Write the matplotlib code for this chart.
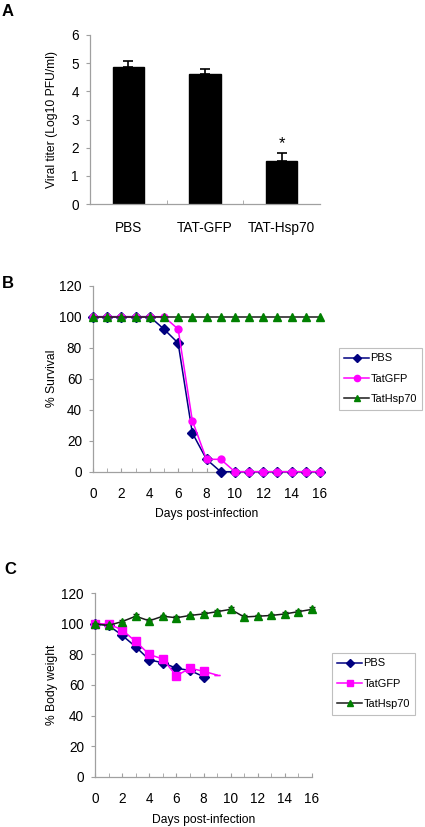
import matplotlib
matplotlib.use("Agg")
import matplotlib.pyplot as plt
from matplotlib.lines import Line2D
import numpy as np

plt.rcParams['font.family'] = ['Liberation Sans', 'DejaVu Sans']

# ---------------- Data ----------------
groups_a = ["PBS", "TAT-GFP", "TAT-Hsp70"]
titer = [4.86, 4.63, 1.52]
titer_err = [0.22, 0.17, 0.29]

days = list(range(0, 17))
surv_pbs = [100, 100, 100, 100, 100, 92, 83, 25, 8, 0, 0, 0, 0, 0, 0, 0, 0]
surv_gfp = [100, 100, 100, 100, 100, 100, 92, 33, 8, 8, 0, 0, 0, 0, 0, 0, 0]
surv_hsp = [100] * 17

days_pbs_w = [0, 1, 2, 3, 4, 5, 6, 7, 8]
bw_pbs = [100, 99, 92.5, 85, 76.5, 74.5, 71, 69.5, 65.5]
bw_pbs_err = [0.8, 0.8, 1.2, 1.2, 1.2, 1.2, 1.0, 1.0, 1.0]
days_gfp_w = [0, 1, 2, 3, 4, 5, 6, 7, 8, 9]
bw_gfp = [100, 100, 96, 88.5, 80, 77, 66, 71, 69, 66.5]
bw_gfp_err = [0.8, 0.8, 1.0, 1.0, 1.0, 1.0, 1.0, 1.0, 1.0, 0]
bw_hsp = [100, 99, 101.5, 105, 102, 105, 104, 105.5, 106.5, 108, 109.5,
          104.5, 105, 105.5, 106.5, 108, 109.5]
bw_hsp_err = [0.8, 0.8, 1.0, 1.2, 1.0, 1.0, 1.0, 1.0, 1.0, 1.2, 1.5,
              1.0, 1.0, 1.0, 1.0, 1.0, 1.5]

legend_labels = ["PBS", "TatGFP", "TatHsp70"]

W, H = 425, 827
fig = plt.figure(figsize=(W / 100, H / 100), dpi=100)

AX_GRAY = "#a0a0a0"
FS = 8.7
TFS = 9.8
NAVY = "#000080"
MAG = "#ff00ff"
GREEN = "#008000"
DARK = "#1a1a1a"


def frac(left, top, right, bottom):
    return [left / W, 1 - bottom / H, (right - left) / W, (bottom - top) / H]


def style_axes(ax):
    for s in ("top", "right"):
        ax.spines[s].set_visible(False)
    for s in ("left", "bottom"):
        ax.spines[s].set_color(AX_GRAY)
        ax.spines[s].set_linewidth(0.9)
    ax.tick_params(axis="both", colors=AX_GRAY, labelcolor="black",
                   labelsize=TFS, width=0.8, length=3)


def add_legend(handles, x, y):
    leg = fig.legend(handles=handles, labels=legend_labels, loc="upper left",
                     bbox_to_anchor=(x / W, 1 - y / H), fontsize=7.9,
                     frameon=True, fancybox=False, edgecolor="#b0b0b0",
                     handlelength=2.2, handletextpad=0.15, borderpad=0.5,
                     labelspacing=0.95, borderaxespad=0)
    leg.get_frame().set_linewidth(0.8)
    return leg


# ---------------- Panel A ----------------
axA = fig.add_axes(frac(90, 35, 320, 204))
xa = np.arange(len(groups_a))
axA.bar(xa, titer, width=0.41, color="black", edgecolor="black", zorder=2)
axA.errorbar(xa, titer, yerr=[[0] * 3, titer_err], fmt="none", ecolor="black",
             elinewidth=1.2, capsize=3.5, capthick=1.2, zorder=3)
axA.text(xa[2], titer[2] + titer_err[2] + 0.05, "*", ha="center", va="bottom",
         fontsize=12)
axA.set_xlim(-0.5, 2.5)
axA.set_ylim(0, 6)
axA.set_yticks(range(0, 7))
axA.set_xticks(xa)
axA.set_xticklabels(groups_a)
axA.set_xticks([0.5, 1.5], minor=True)
style_axes(axA)
axA.tick_params(axis="x", which="major", length=0, pad=12)
axA.tick_params(axis="x", which="minor", length=3, direction="in", colors=AX_GRAY)
axA.tick_params(axis="y", direction="out", pad=5)
axA.set_ylabel("Viral titer (Log10 PFU/ml)", fontsize=FS)
axA.yaxis.set_label_coords((58 - 90) / 230, 0.5)
fig.text(8 / W, 1 - 12 / H, "A", fontsize=12, fontweight="bold",
         ha="center", va="center")

# ---------------- Panel B ----------------
axB = fig.add_axes(frac(93, 285.7, 320, 471.7))
axB.plot(days, surv_pbs, color=NAVY, marker="D", markersize=5.5,
         lw=1.1, clip_on=False, zorder=3)
axB.plot(days, surv_gfp, color=MAG, marker="o", markersize=5,
         lw=1.1, clip_on=False, zorder=4)
axB.plot(days, surv_hsp, color=DARK, marker="^", markersize=6,
         markerfacecolor=GREEN, markeredgecolor=GREEN,
         lw=1.1, clip_on=False, zorder=5)
axB.set_xlim(0, 16)
axB.set_ylim(0, 120)
axB.set_xticks(range(0, 17, 2))
axB.set_xticks(range(0, 17), minor=True)
axB.set_yticks(range(0, 121, 20))
style_axes(axB)
axB.tick_params(axis="x", which="both", direction="in", length=3, pad=11,
                colors=AX_GRAY, labelcolor="black")
axB.tick_params(axis="y", direction="out", pad=5)
axB.set_xlabel("Days post-infection", fontsize=FS, labelpad=5)
axB.set_ylabel("% Survival", fontsize=FS)
axB.yaxis.set_label_coords((58 - 93) / 227, 0.5)
fig.text(8 / W, 1 - 283 / H, "B", fontsize=12, fontweight="bold",
         ha="center", va="center")
hB = [Line2D([], [], color=NAVY, marker="D", markersize=4.5, lw=1.1),
      Line2D([], [], color=MAG, marker="o", markersize=4.5, lw=1.1),
      Line2D([], [], color=DARK, marker="^", markersize=5, lw=1.1,
             markerfacecolor=GREEN, markeredgecolor=GREEN)]
add_legend(hB, 339, 348)

# ---------------- Panel C ----------------
axC = fig.add_axes(frac(95, 593.3, 312, 776.7))
axC.errorbar(days_pbs_w, bw_pbs, yerr=[[0] * len(bw_pbs), bw_pbs_err],
             color=NAVY, marker="D", markersize=5, lw=1.1,
             capsize=2.5, elinewidth=0.9, clip_on=False, zorder=3)
axC.errorbar(days_gfp_w, bw_gfp, yerr=[[0] * len(bw_gfp), bw_gfp_err],
             color=MAG, marker="s", markersize=5.5, lw=1.1,
             capsize=2.5, elinewidth=0.9, markevery=list(range(9)),
             clip_on=False, zorder=4)
axC.errorbar(days, bw_hsp, yerr=[[0] * len(bw_hsp), bw_hsp_err],
             color=DARK, marker="^", markersize=6,
             markerfacecolor=GREEN, markeredgecolor=GREEN,
             ecolor=DARK, lw=1.1, capsize=2.5, elinewidth=0.9,
             clip_on=False, zorder=5)
axC.set_xlim(0, 16)
axC.set_ylim(0, 120)
axC.set_xticks(range(0, 17, 2))
axC.set_xticks(range(0, 17), minor=True)
axC.set_yticks(range(0, 121, 20))
style_axes(axC)
axC.tick_params(axis="x", which="both", direction="in", length=3, pad=11,
                colors=AX_GRAY, labelcolor="black")
axC.tick_params(axis="y", direction="out", pad=5)
axC.set_xlabel("Days post-infection", fontsize=FS, labelpad=6)
axC.set_ylabel("% Body weight", fontsize=FS)
axC.yaxis.set_label_coords((58 - 95) / 217, 0.5)
fig.text(10 / W, 1 - 570 / H, "C", fontsize=12, fontweight="bold",
         ha="center", va="center")
hC = [Line2D([], [], color=NAVY, marker="D", markersize=4.5, lw=1.1),
      Line2D([], [], color=MAG, marker="s", markersize=5, lw=1.1),
      Line2D([], [], color=DARK, marker="^", markersize=5, lw=1.1,
             markerfacecolor=GREEN, markeredgecolor=GREEN)]
add_legend(hC, 332, 653)

fig.savefig("out.png", dpi=100, facecolor="white")
